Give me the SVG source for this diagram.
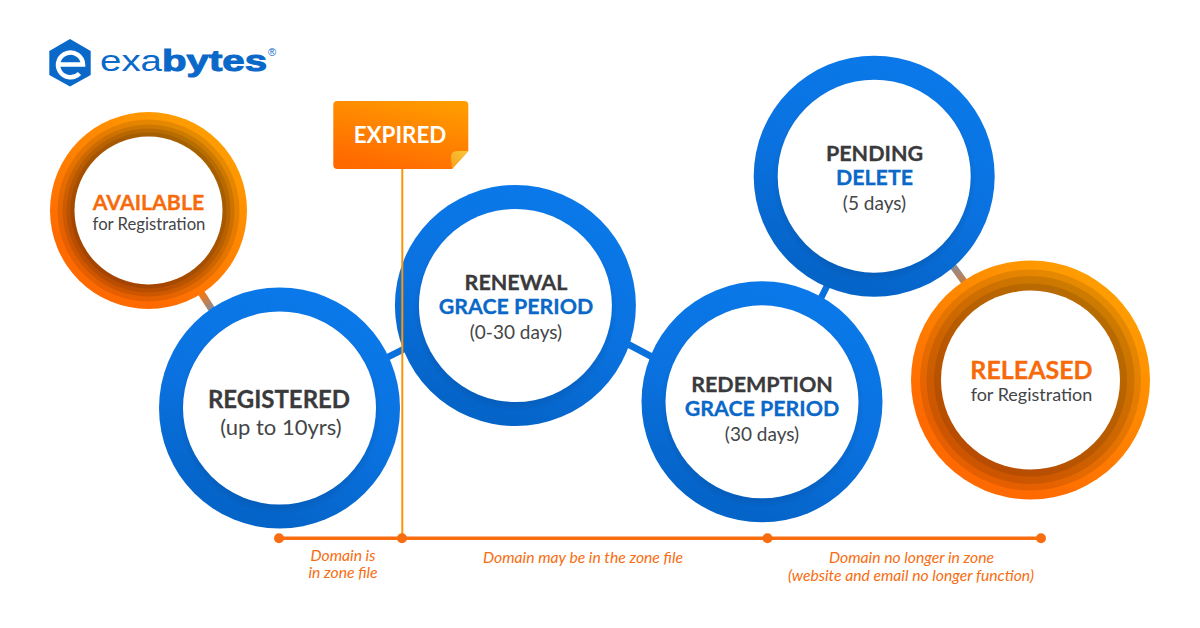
<svg xmlns="http://www.w3.org/2000/svg" width="1200" height="628" viewBox="0 0 1200 628">
<style>
text{font-family:Lato,"Liberation Sans",sans-serif;text-anchor:middle}
.h{font-weight:700;font-size:21.5px;fill:#3a3a3c;stroke:#3a3a3c;stroke-width:.3px}
.b{font-weight:700;font-size:21.4px;fill:#0a68c9;stroke:#0a68c9;stroke-width:.3px}
.o{font-weight:700;font-size:21.3px;fill:#f76a0a;stroke:#f76a0a;stroke-width:.3px}
.s{font-size:19px;fill:#444648}
.r{font-size:16.7px;fill:#444648}
.t{font-style:italic;font-size:15.7px;fill:#f76d10}
.ring{fill:url(#blue)}
.shade{fill:url(#shade)}
.hole{fill:#fff}
.band{fill:#000;opacity:.1}
.logo{font-family:"Liberation Sans",sans-serif;text-anchor:start;fill:#0a68c9}
</style>
<defs>
<linearGradient id="blue" x1="0.7" y1="0.1" x2="0.4" y2="0.95"><stop offset="0" stop-color="#0a78e8"/><stop offset="0.5" stop-color="#0a72e0"/><stop offset="1" stop-color="#0564c8"/></linearGradient>
<radialGradient id="shade"><stop offset="0.9" stop-color="#00204a" stop-opacity=".14"/><stop offset="1" stop-color="#00204a" stop-opacity="0"/></radialGradient>
<linearGradient id="orange" x1="0.85" y1="0.15" x2="0.35" y2="0.85"><stop offset="0" stop-color="#ff9d00"/><stop offset="1" stop-color="#ff6a00"/></linearGradient>
<linearGradient id="tag" x1="0.85" y1="0" x2="0.4" y2="1"><stop offset="0" stop-color="#ff9d00"/><stop offset="1" stop-color="#ff6a00"/></linearGradient>
<linearGradient id="fold" x1="0" y1="1" x2="1" y2="0"><stop offset="0" stop-color="#f9a21a"/><stop offset="1" stop-color="#f6c83c"/></linearGradient>
<linearGradient id="l1" gradientUnits="userSpaceOnUse" x1="203" y1="296" x2="214" y2="313"><stop offset="0" stop-color="#e87a20"/><stop offset="1" stop-color="#6f8fb8"/></linearGradient>
<linearGradient id="l2" gradientUnits="userSpaceOnUse" x1="950" y1="262" x2="968" y2="287"><stop offset="0" stop-color="#7f8fa8"/><stop offset="1" stop-color="#d47a30"/></linearGradient>
</defs>
<rect width="1200" height="628" fill="#fff"/>
<g id="connectors">
<path d="M200 291L216 316" stroke="url(#l1)" stroke-width="7" fill="none"/>
<path d="M382 360L412 345" stroke="#0a70dc" stroke-width="6.500" fill="none"/>
<path d="M622 341L656 359" stroke="#0a70dc" stroke-width="7" fill="none"/>
<path d="M818 304L830 280" stroke="#0a70dc" stroke-width="6.500" fill="none"/>
<path d="M950 262L968 287" stroke="url(#l2)" stroke-width="7" fill="none"/>
</g>
<g id="logo">
<path d="M70 39L90.700 51V75L70 86.500L49.300 75V51Z" fill="#0a68c9"/>
<path d="M59 64.500H83A12.500 12.300 0 1 0 79.500 73.500" fill="none" stroke="#fff" stroke-width="4.500"/>
<text class="logo" x="100" y="70.700" font-size="30" textLength="62" lengthAdjust="spacingAndGlyphs">exa</text>
<text class="logo" x="162" y="70.700" font-size="30" font-weight="700" textLength="105" lengthAdjust="spacingAndGlyphs" stroke="#0a68c9" stroke-width="1">bytes</text>
<text class="logo" x="268" y="56" font-size="11">®</text>
</g>
<g id="available">
<circle cx="148.500" cy="210.500" r="98.500" fill="url(#orange)"/>
<circle class="band" cx="148.500" cy="210.500" r="91"/>
<circle class="band" cx="148.500" cy="210.500" r="86"/>
<circle class="band" cx="148.500" cy="210.500" r="82"/>
<circle class="band" cx="148.500" cy="210.500" r="78"/>
<circle class="hole" cx="148.500" cy="210.500" r="74"/>
<text class="o" x="148.500" y="209.500">AVAILABLE</text>
<text class="r" x="149" y="229.800">for Registration</text>
</g>
<g id="registered">
<circle class="ring" cx="279.500" cy="408" r="120.500"/>
<circle class="shade" cx="279.500" cy="412" r="102"/>
<circle class="hole" cx="279.500" cy="408" r="96.500"/>
<text class="h" x="279" y="407.500" style="font-size:24px">REGISTERED</text>
<text class="s" x="281" y="435" style="font-size:22px">(up to 10yrs)</text>
</g>
<g id="renewal">
<circle class="ring" cx="515.400" cy="305.500" r="120.500"/>
<circle class="shade" cx="515.400" cy="309.500" r="102"/>
<circle class="hole" cx="515.400" cy="305.500" r="96.500"/>
<text class="h" x="516" y="290">RENEWAL</text>
<text class="b" x="516" y="314">GRACE PERIOD</text>
<text class="s" x="516" y="339">(0-30 days)</text>
</g>
<g id="redemption">
<circle class="ring" cx="762" cy="401.800" r="120.500"/>
<circle class="shade" cx="762" cy="405.800" r="102"/>
<circle class="hole" cx="762" cy="401.800" r="96.500"/>
<text class="h" x="762" y="391.500">REDEMPTION</text>
<text class="b" x="762" y="415.700">GRACE PERIOD</text>
<text class="s" x="762" y="441">(30 days)</text>
</g>
<g id="pending">
<circle class="ring" cx="874.200" cy="176.200" r="120.500"/>
<circle class="shade" cx="874.200" cy="180.200" r="102"/>
<circle class="hole" cx="874.200" cy="176.200" r="96.500"/>
<text class="h" x="874.500" y="160.800">PENDING</text>
<text class="b" x="874.500" y="185">DELETE</text>
<text class="s" x="874.500" y="210">(5 days)</text>
</g>
<g id="released">
<circle cx="1030.500" cy="380" r="119.500" fill="url(#orange)"/>
<circle class="band" cx="1030.500" cy="380" r="110.500"/>
<circle class="band" cx="1030.500" cy="380" r="104"/>
<circle class="band" cx="1030.500" cy="380" r="96.500"/>
<circle class="hole" cx="1030.500" cy="380" r="89.500"/>
<text class="o" x="1031.500" y="379" style="font-size:25px">RELEASED</text>
<text class="r" x="1031.500" y="400.700" style="font-size:18px">for Registration</text>
</g>
<g id="timeline">
<path d="M402.300 168V538" stroke="#f9960a" stroke-width="2" fill="none"/>
<path d="M279 538.300H1041" stroke="#f76d10" stroke-width="3.500" fill="none"/>
<g fill="#f76d10"><circle cx="279" cy="538.300" r="5"/><circle cx="402" cy="538.300" r="5"/><circle cx="767.500" cy="538.300" r="5"/><circle cx="1041" cy="538.300" r="5"/></g>
<text class="t" x="343" y="560.700">Domain is</text>
<text class="t" x="343" y="578.300">in zone file</text>
<text class="t" x="583" y="563.300">Domain may be in the zone file</text>
<text class="t" x="911.500" y="563.300">Domain no longer in zone</text>
<text class="t" x="911" y="580.700">(website and email no longer function)</text>
</g>
<g id="expired">
<path d="M337.300 101H464.300Q468.300 101 468.300 105V151L452 169H337.300Q333.300 169 333.300 165V105Q333.300 101 337.300 101Z" fill="url(#tag)"/>
<path d="M452 169L468.300 151H457Q451 151 451 157Z" fill="url(#fold)"/>
<text x="400" y="143.300" style="font-weight:700;font-size:22.4px;fill:#fff">EXPIRED</text>
</g>
</svg>
